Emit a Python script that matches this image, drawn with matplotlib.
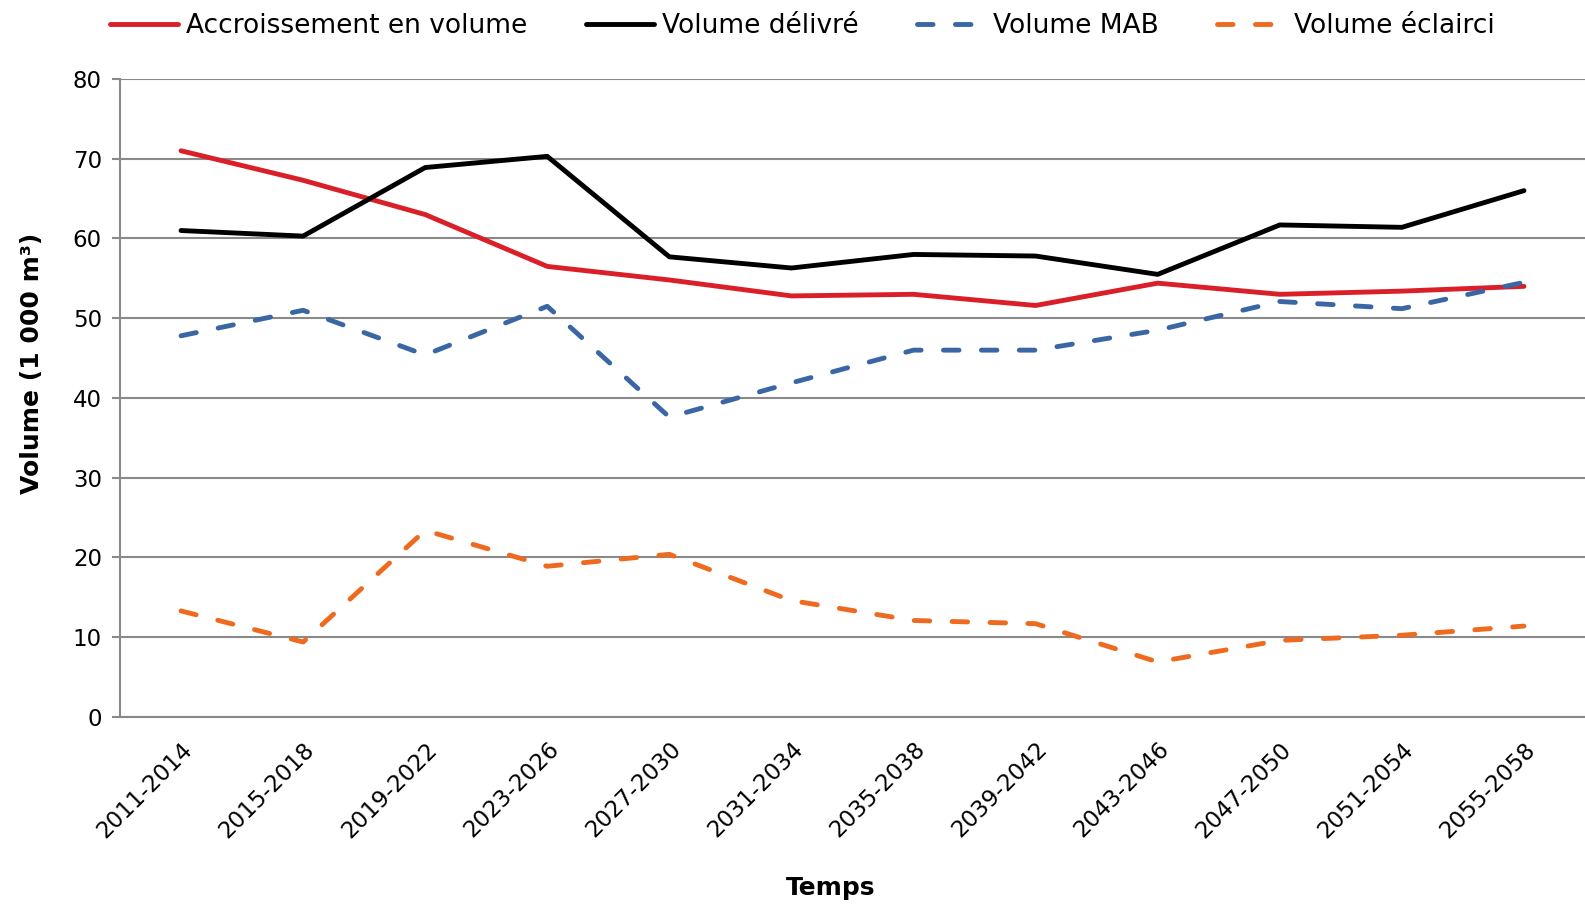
import matplotlib
matplotlib.use("Agg")
import matplotlib.pyplot as plt
import numpy as np

categories = ["2011-2014", "2015-2018", "2019-2022", "2023-2026", "2027-2030", "2031-2034",
              "2035-2038", "2039-2042", "2043-2046", "2047-2050", "2051-2054", "2055-2058"]
accroissement = [71.0, 67.3, 63.0, 56.5, 54.8, 52.8, 53.0, 51.6, 54.4, 53.0, 53.4, 54.0]
delivre = [61.0, 60.3, 68.9, 70.3, 57.7, 56.3, 58.0, 57.8, 55.5, 61.7, 61.4, 66.0]
mab = [47.8, 51.0, 45.4, 51.5, 37.6, 41.9, 46.0, 46.0, 48.5, 52.1, 51.2, 54.5]
eclairci = [13.3, 9.4, 23.4, 18.9, 20.4, 14.6, 12.1, 11.7, 6.9, 9.6, 10.25, 11.4]
yticks = [0, 10, 20, 30, 40, 50, 60, 70, 80]

plt.rcParams['font.family'] = ['DejaVu Sans']

fig = plt.figure(figsize=(15.85, 9.07), dpi=100)
ax = fig.add_axes([0.0757, 0.2095, 0.9243, 0.7034])

x = np.arange(len(categories))
lw = 3.5
ax.plot(x, accroissement, color="#DA1F28", lw=lw, solid_capstyle="round", solid_joinstyle="round",
        label="Accroissement en volume", zorder=4)
ax.plot(x, delivre, color="#000000", lw=lw, solid_capstyle="round", solid_joinstyle="round",
        label="Volume délivré", zorder=4)
l1, = ax.plot(x, mab, color="#3A67A4", lw=lw, dash_capstyle="round", dash_joinstyle="round",
              label="Volume MAB", zorder=4)
l1.set_dashes((3.2, 4.6))
l2, = ax.plot(x, eclairci, color="#EE6A1F", lw=lw, dash_capstyle="round", dash_joinstyle="round",
              label="Volume éclairci", zorder=4)
l2.set_dashes((3.2, 4.6))

ax.set_xlim(-0.5, len(categories) - 0.5)
ax.set_ylim(0, 80)
ax.set_yticks(yticks)
ax.set_yticklabels([str(v) for v in yticks], fontsize=16.5)
ax.set_xticks(x)
ax.set_xticklabels(categories, rotation=45, ha="right", rotation_mode="anchor", fontsize=16.5)
ax.tick_params(axis="x", length=0, pad=15)
ax.tick_params(axis="y", length=6, width=1.5, color="#898989", pad=7)

ax.grid(axis="y", color="#898989", lw=1.5)
ax.set_axisbelow(True)
for s in ["top", "right"]:
    ax.spines[s].set_visible(False)
for s in ["left", "bottom"]:
    ax.spines[s].set_color("#898989")
    ax.spines[s].set_linewidth(1.5)

ax.set_ylabel("Volume (1 000 m³)", fontsize=18, fontweight="bold")
ax.yaxis.set_label_coords(-0.052, 0.555)
ax.set_xlabel("Temps", fontsize=18, fontweight="bold")
ax.xaxis.set_label_coords(0.485, -0.249)

fig.legend(loc="upper center", bbox_to_anchor=(0.506, 1.012), ncol=4, frameon=False,
           fontsize=19, handlelength=2.6, columnspacing=2.2, handletextpad=0.3)

fig.savefig("out.png", dpi=100)
